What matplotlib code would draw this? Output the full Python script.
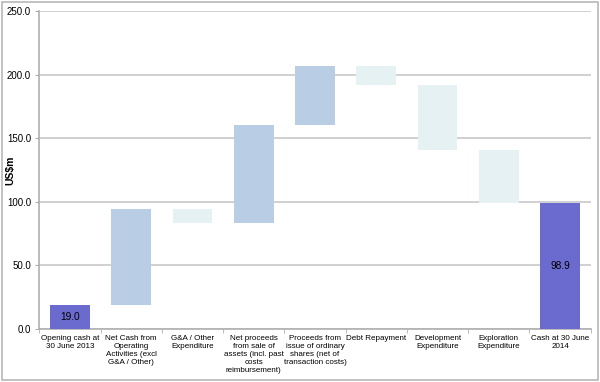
import numpy as np
import matplotlib
matplotlib.use('Agg')
import matplotlib.pyplot as plt
from matplotlib.patches import Rectangle

plt.rcParams['font.family'] = ['Liberation Sans', 'DejaVu Sans']

categories = ['Opening cash at\n30 June 2013',
              'Net Cash from\nOperating\nActivities (excl\nG&A / Other)',
              'G&A / Other\nExpenditure',
              'Net proceeds\nfrom sale of\nassets (incl. past\ncosts\nreimbursement)',
              'Proceeds from\nissue of ordinary\nshares (net of\ntransaction costs)',
              'Debt Repayment',
              'Development\nExpenditure',
              'Exploration\nExpenditure',
              'Cash at 30 June\n2014']
opening_cash = 19.0
movements = [75.1, -11.0, 77.3, 46.4, -15.0, -50.8, -42.1]
closing_cash = 98.9

TOTAL_COL = '#6b6bcf'
UP_COL = '#b9cde5'
DOWN_COL = '#e5f1f3'

fig = plt.figure(figsize=(6.0, 3.82), dpi=100)
ax = fig.add_axes([0.0655, 0.1387, 0.919, 0.8317])

x = np.arange(len(categories))
w = 0.65

# opening / closing
ax.bar(x[0], opening_cash, width=w, color=TOTAL_COL, zorder=3)
ax.bar(x[-1], closing_cash, width=w, color=TOTAL_COL, zorder=3)

#- floating bars
level = opening_cash
for i, m in enumerate(movements):
    col = UP_COL if m > 0 else DOWN_COL
    ax.bar(x[i + 1], abs(m), bottom=min(level, level + m),
           width=w, color=col, zorder=3)
    level += m

ax.text(x[0], opening_cash/2, f'{opening_cash:.1f}', ha='center',
        va='center', fontsize=7.3, zorder=4)
ax.text(x[-1], closing_cash/2, f'{closing_cash:.1f}', ha='center',
        va='center', fontsize=7.3, zorder=4)

ax.set_xlim(-0.5, len(categories) - 0.5)
ax.set_ylim(0, 250)
ax.set_yticks(np.arange(0, 251, 50))
ax.set_yticklabels([f'{v:.1f}' for v in np.arange(0, 251, 50)], fontsize=7)
ax.set_xticks(x)
ax.set_xticklabels(categories, fontsize=5.8, linespacing=1.2)
ax.set_xticks(np.arange(-0.5, len(categories)), minor=True)
ax.tick_params(axis='x', which='major', length=0, pad=4)
ax.tick_params(axis='x', which='minor', length=3, color='#b0b0b0')
ax.tick_params(axis='y', length=3, color='#b0b0b0', pad=3)

ax.grid(True, axis='y', color='#c8c8c8', linewidth=1.2, zorder=0)
ax.set_axisbelow(True)
for s in ['top', 'right']:
    ax.spines[s].set_visible(False)
for s in ['left', 'bottom']:
    ax.spines[s].set_color('#b0b0b0')
    ax.spines[s].set_linewidth(1.2)

fig.text(0.018, 0.555, 'US$m', rotation=90, fontsize=7.5,
         fontweight='bold', ha='center', va='center')

# outer frame
fig.patches.append(Rectangle((0.004, 0.006), 0.992, 0.988, transform=fig.transFigure,
                             fill=False, edgecolor='#b8b8b8', linewidth=1.2))

plt.savefig('out.png')
